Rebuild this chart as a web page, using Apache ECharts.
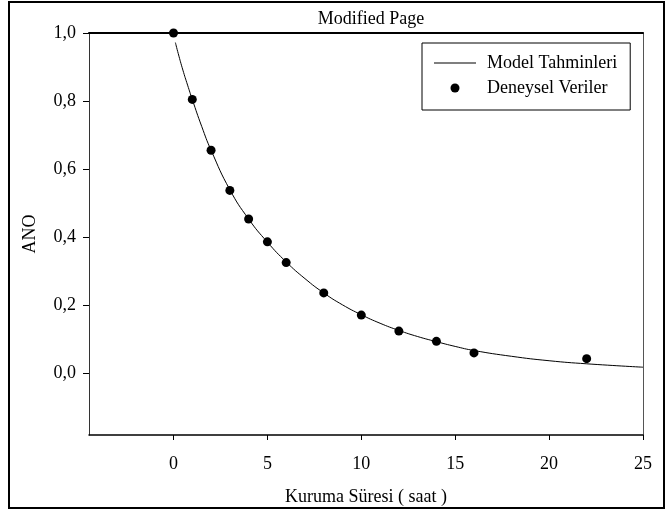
<!DOCTYPE html>
<html>
<head>
<meta charset="utf-8">
<script src="https://cdn.jsdelivr.net/npm/echarts@6/dist/echarts.min.js"></script>
<style>html,body{margin:0;padding:0;background:#fff}#c{width:672px;height:515px}</style>
</head>
<body>
<div id="c"></div>
<script>
// Experimental data (Deneysel Veriler)
const expTime = [0, 1, 2, 3, 4, 5, 6, 8, 10, 12, 14, 16, 22];
const expANO  = [1.0, 0.805, 0.656, 0.538, 0.454, 0.387, 0.326, 0.237, 0.172, 0.125, 0.095, 0.061, 0.044];
// Model curve (Model Tahminleri)
const modelTime = [0.1, 0.25, 0.5, 0.75, 1, 1.5, 2, 3, 4, 5, 6, 7, 8, 9, 10, 11, 12, 13, 14, 15, 16, 18, 20, 22, 25];
const modelANO  = [0.972, 0.94, 0.891, 0.847, 0.805, 0.726, 0.656, 0.540, 0.454, 0.386, 0.328, 0.279, 0.237, 0.202, 0.173, 0.148, 0.127, 0.109, 0.094, 0.080, 0.068, 0.051, 0.038, 0.029, 0.019];
// Tick labels
const xTicks = [0, 5, 10, 15, 20, 25];
const yTicks = [0, 0.2, 0.4, 0.6, 0.8, 1.0];

const FONT = "'Liberation Serif', 'Times New Roman', serif";
const chart = echarts.init(document.getElementById('c'), null, {renderer: 'canvas'});
chart.setOption({
  animation: false,
  backgroundColor: '#fff',
  title: {
    text: 'Modified Page',
    left: 366, top: 5, textAlign: 'center',
    textStyle: {fontFamily: FONT, fontSize: 18, fontWeight: 'normal', color: '#000'}
  },
  graphic: [{
    type: 'rect', silent: true, z: 100,
    shape: {x: 9, y: 2, width: 655, height: 506},
    style: {fill: 'none', stroke: '#000', lineWidth: 2}
  }],
  legend: {
    orient: 'vertical', left: 422, top: 43,
    padding: [11, 13, 13, 12],
    itemWidth: 42, itemHeight: 9, itemGap: 7,
    borderColor: '#000', borderWidth: 1,
    textStyle: {fontFamily: FONT, fontSize: 18, color: '#000', lineHeight: 18, padding: [0, 0, 0, 6]},
    data: [
      {name: 'Model Tahminleri', icon: 'path://M0 0H42V1H0Z', itemStyle: {color: '#000', opacity: 1}},
      {name: 'Deneysel Veriler', icon: 'circle', itemStyle: {color: '#000', opacity: 1}}
    ]
  },
  grid: {left: 89, top: 33, right: 29, bottom: 80, containLabel: false},
  xAxis: [{
    type: 'value', min: -4.5, max: 25, position: 'bottom',
    name: 'Kuruma Süresi ( saat )', nameLocation: 'middle', nameGap: 53,
    nameTextStyle: {fontFamily: FONT, fontSize: 18, color: '#000'},
    axisLine: {show: true, onZero: false, lineStyle: {color: '#000', width: 1.5}},
    axisTick: {show: true, inside: false, length: 5, customValues: xTicks, lineStyle: {color: '#000'}},
    axisLabel: {margin: 20, fontFamily: FONT, fontSize: 18, color: '#000', customValues: xTicks},
    splitLine: {show: false}
  }, {
    type: 'value', min: -4.5, max: 25, position: 'top',
    axisLine: {show: true, onZero: false, lineStyle: {color: '#000', width: 2}},
    axisTick: {show: false}, axisLabel: {show: false}, splitLine: {show: false}
  }],
  yAxis: [{
    type: 'value', min: -0.18, max: 1.0, position: 'left',
    name: 'ANO', nameLocation: 'middle', nameGap: 50, nameRotate: 90,
    nameTextStyle: {fontFamily: FONT, fontSize: 18, color: '#000'},
    axisLine: {show: true, onZero: false, lineStyle: {color: '#333', width: 1}},
    axisTick: {show: true, inside: false, length: 6, customValues: yTicks, lineStyle: {color: '#000'}},
    axisLabel: {margin: 13, fontFamily: FONT, fontSize: 18, color: '#000', customValues: yTicks,
      formatter: v => v.toFixed(1).replace('.', ',')},
    splitLine: {show: false}
  }, {
    type: 'value', min: -0.18, max: 1.0, position: 'right',
    axisLine: {show: true, onZero: false, lineStyle: {color: '#555', width: 1}},
    axisTick: {show: false}, axisLabel: {show: false}, splitLine: {show: false}
  }],
  series: [{
    name: 'Model Tahminleri', type: 'line', smooth: true, symbol: 'none', showSymbol: false,
    data: modelTime.map((t, i) => [t, modelANO[i]]),
    lineStyle: {color: '#000', width: 1}, itemStyle: {color: '#000'}, z: 2
  }, {
    name: 'Deneysel Veriler', type: 'scatter', symbol: 'circle', symbolSize: 9,
    data: expTime.map((t, i) => [t, expANO[i]]),
    itemStyle: {color: '#000', opacity: 1}, z: 3
  }]
});
</script>
</body>
</html>
